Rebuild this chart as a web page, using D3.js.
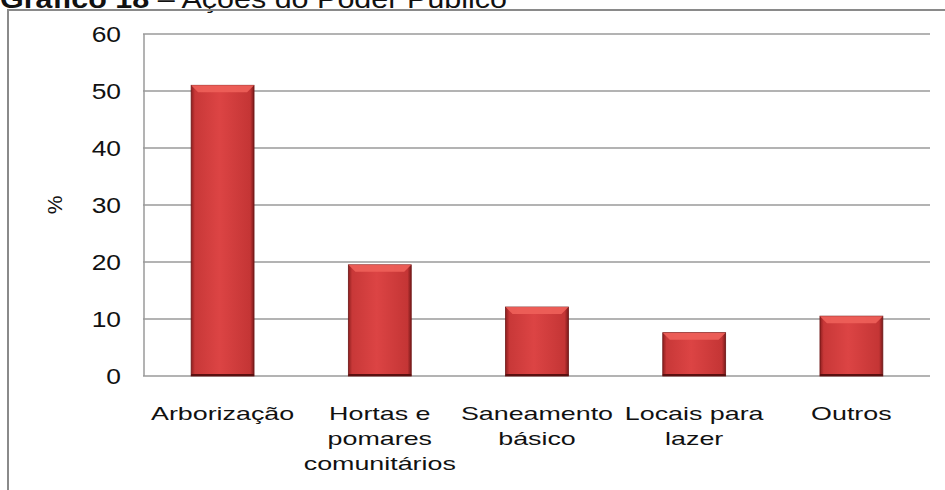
<!DOCTYPE html>
<head>
  <meta charset="utf-8">
  <script src="https://cdn.jsdelivr.net/npm/d3@7/dist/d3.min.js"></script>
  <style>
    body { margin:0; background:#fff; }
    text { font-family: "Liberation Sans", Arial, sans-serif; fill:#111; }
  </style>
</head>
<body>
  <script>
    // dados do gráfico
    var categorias = [
      ["Arborização"],
      ["Hortas e", "pomares", "comunitários"],
      ["Saneamento", "básico"],
      ["Locais para", "lazer"],
      ["Outros"]
    ];
    var valores = [51, 19.5, 12.1, 7.6, 10.5];
    var ticks = [0, 10, 20, 30, 40, 50, 60];

    var width = 945, height = 490;
    var margin = {top: 34, right: 15, bottom: 114, left: 144};

    // o texto do original é esticado na horizontal
    function esticar(sel, k) {
      sel.each(function() {
        var w = this.getComputedTextLength();
        d3.select(this).attr("textLength", w * k).attr("lengthAdjust", "spacingAndGlyphs");
      });
    }

    var svg = d3.select("body").append("svg")
      .attr("width", width)
      .attr("height", height);

    // gradiente das barras
    var defs = svg.append("defs");
    var grad = defs.append("linearGradient").attr("id", "barGrad")
      .attr("x1", 0).attr("x2", 1).attr("y1", 0).attr("y2", 0);
    grad.append("stop").attr("offset", "0%").attr("stop-color", "#8e1f1f");
    grad.append("stop").attr("offset", "6%").attr("stop-color", "#c83838");
    grad.append("stop").attr("offset", "45%").attr("stop-color", "#dc4444");
    grad.append("stop").attr("offset", "94%").attr("stop-color", "#c43535");
    grad.append("stop").attr("offset", "100%").attr("stop-color", "#7a1a1a");

    // título (cortado no topo, como no original)
    var titulo = svg.append("text").attr("x", 0).attr("y", 8)
      .style("font-size", "25px");
    titulo.append("tspan").style("font-weight", "bold").text("Gráfico 18");
    titulo.append("tspan").text(" – Ações do Poder Público");
    esticar(titulo, 1.22);

    // moldura
    svg.append("path")
      .attr("d", "M8,490 V10 H945")
      .style("fill", "none").style("stroke", "#8a8a8a").style("stroke-width", 2);

    var x = d3.scaleBand()
      .domain(d3.range(valores.length))
      .range([margin.left, width - margin.right])
      .paddingInner(0.6).paddingOuter(0.3);

    var y = d3.scaleLinear().domain([0, 60])
      .range([height - margin.bottom, margin.top]);

    // grade
    svg.append("g").selectAll("line").data(ticks).enter().append("line")
      .attr("x1", margin.left - 1).attr("x2", width - margin.right)
      .attr("y1", function(d) { return y(d); })
      .attr("y2", function(d) { return y(d); })
      .style("stroke", "#9a9a9a").style("stroke-width", 1.5);

    svg.append("line")
      .attr("x1", margin.left).attr("x2", margin.left)
      .attr("y1", y(60)).attr("y2", y(0))
      .style("stroke", "#9a9a9a").style("stroke-width", 1.5);

    var yAxis = svg.append("g")
      .attr("transform", "translate(" + (margin.left - 23) + ",0)")
      .call(d3.axisLeft(y).tickValues(ticks).tickSize(0).tickPadding(0));
    yAxis.select(".domain").remove();
    yAxis.selectAll("text").style("font-size", "22px")
      .style("font-family", "'Liberation Sans', Arial, sans-serif").attr("fill", "#111");
    esticar(yAxis.selectAll("text"), 1.2);

    svg.append("text")
      .attr("transform", "translate(55," + y(30) + ") rotate(-90)")
      .attr("text-anchor", "middle").attr("dy", "0.35em")
      .style("font-size", "21px").text("%");

    // barras
    var barras = svg.append("g").selectAll("g").data(valores).enter().append("g");
    barras.append("rect")
      .attr("x", function(d, i) { return x(i); })
      .attr("y", function(d) { return y(d); })
      .attr("width", x.bandwidth())
      .attr("height", function(d) { return y(0) - y(d); })
      .style("fill", "url(#barGrad)")
      .style("stroke", "#6e1616").style("stroke-width", 0.8);
    // chanfro superior
    barras.append("path")
      .attr("d", function(d, i) {
        var x0 = x(i), x1 = x(i) + x.bandwidth(), t = y(d);
        return "M" + x0 + "," + t + " H" + x1 + " L" + (x1 - 7) + "," + (t + 7) +
               " H" + (x0 + 7) + " Z";
      })
      .style("fill", "#ee605a").style("opacity", 0.9);
    barras.append("line")
      .attr("x1", function(d, i) { return x(i); })
      .attr("x2", function(d, i) { return x(i) + x.bandwidth(); })
      .attr("y1", function(d) { return y(0) - 1; })
      .attr("y2", function(d) { return y(0) - 1; })
      .style("stroke", "#5a1010").style("stroke-width", 2);

    // rótulos das categorias
    var rotulos = svg.append("g").selectAll("text").data(categorias).enter().append("text")
      .attr("text-anchor", "middle")
      .attr("x", function(d, i) { return x(i) + x.bandwidth() / 2; })
      .attr("y", 420)
      .style("font-size", "18.5px");
    rotulos.each(function(d) {
      var t = d3.select(this);
      d.forEach(function(linha, k) {
        t.append("tspan")
          .attr("x", t.attr("x"))
          .attr("dy", k === 0 ? 0 : 25)
          .text(linha);
      });
    });
    esticar(rotulos.selectAll("tspan"), 1.45);
  </script>
</body>
